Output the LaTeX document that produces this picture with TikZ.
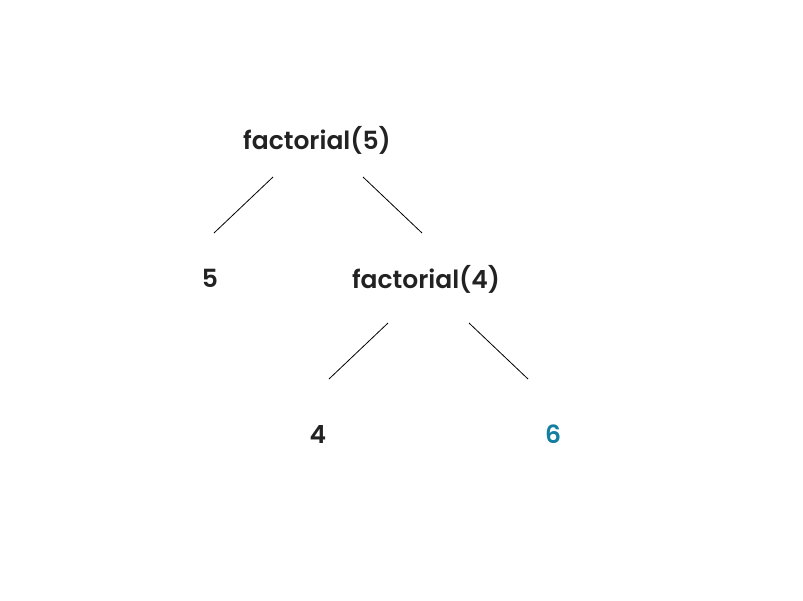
\documentclass[tikz,border=0pt]{standalone}
\usepackage{fontspec}
\setmainfont{Poppins}[UprightFont={* SemiBold},BoldFont={* SemiBold}]
\usepackage{tikz}
\usetikzlibrary{calc}
\definecolor{ink}{HTML}{222222}
\definecolor{teal6}{HTML}{137EA0}

\begin{document}
\begin{tikzpicture}[x=1pt,y=-1pt,
    call/.style={anchor=base, inner sep=0pt, text=ink, font=\fontsize{25}{30}\selectfont},
    leaf/.style={call},
    edge/.style={line width=0.8pt, black}]
\useasboundingbox (0,0) rectangle (803,600);
%calls
\node[call] (f5) at (317,149) {factorial(5)};
\node[leaf] (n5) at (210,287) {5};
\node[call] (f4) at (426,288) {factorial(4)};
\node[leaf] (n4) at (318,443) {4};
\node[leaf, text=teal6] (n6) at (553,443) {6};
%edges
\draw[edge] ([shift={(-44,28)}]f5.base) -- ([shift={(4,-54)}]n5.base);
\draw[edge] ([shift={(46,28)}]f5.base) -- ([shift={(-4,-55)}]f4.base);
\draw[edge] ([shift={(-38,35)}]f4.base) -- ([shift={(11,-64)}]n4.base);
\draw[edge] ([shift={(43,35)}]f4.base) -- ([shift={(-25,-64)}]n6.base);
\end{tikzpicture}
\end{document}
